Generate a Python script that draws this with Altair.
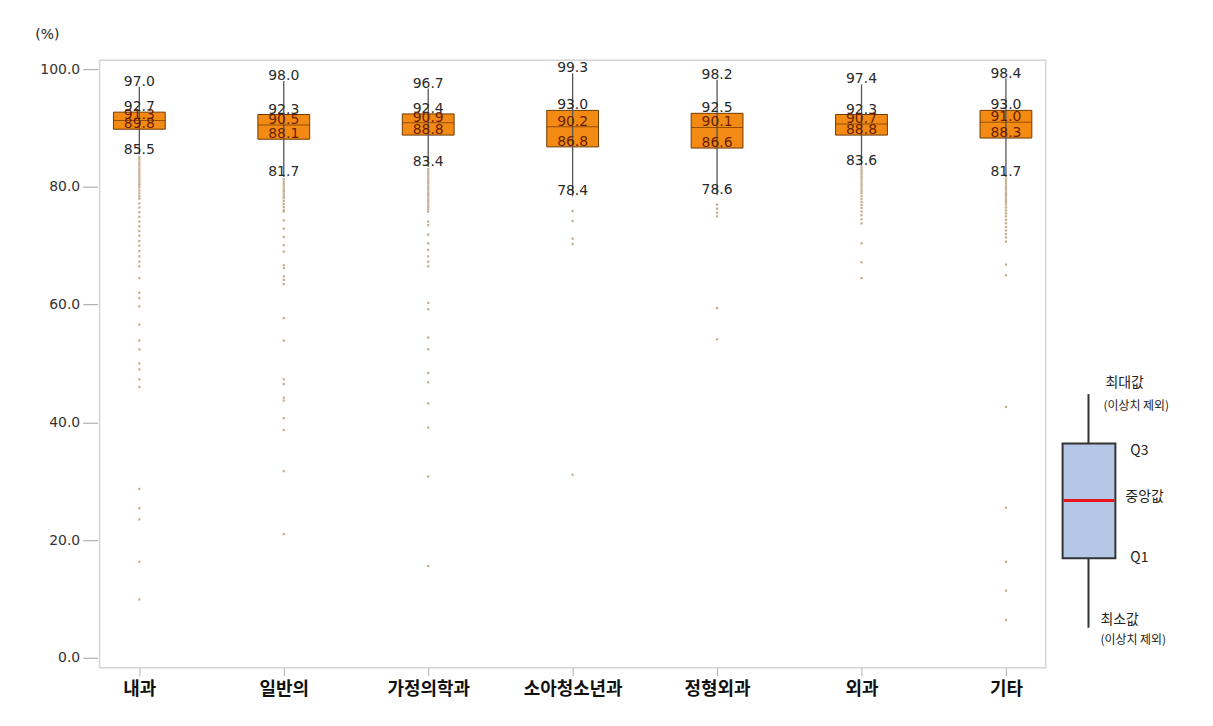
import altair as alt
import pandas as pd

# ---------------- data ----------------
cats = ["내과", "일반의", "가정의학과", "소아청소년과", "정형외과", "외과", "기타"]
vmax = [97.0, 98.0, 96.7, 99.3, 98.2, 97.4, 98.4]
vq3 = [92.7, 92.3, 92.4, 93.0, 92.5, 92.3, 93.0]
vmed = [91.3, 90.5, 90.9, 90.2, 90.1, 90.7, 91.0]
vq1 = [89.8, 88.1, 88.8, 86.8, 86.6, 88.8, 88.3]
vmin = [85.5, 81.7, 83.4, 78.4, 78.6, 83.6, 81.7]

out_naegwa = [85.1, 84.7, 84.3, 83.9, 83.5, 83.1, 82.7, 82.3, 81.9, 81.5, 81.1, 80.7,
              80.3, 79.9, 79.4, 78.9, 78.4, 78.0, 77.2, 76.5, 75.7, 74.9, 74.1, 73.3,
              72.5, 71.7, 70.8, 70.0, 69.1, 68.2, 67.3, 66.5, 64.5, 62.0, 61.1, 59.7,
              56.6, 53.9, 52.4, 50.0, 49.0, 47.3, 46.0, 28.7, 25.4, 23.5, 16.3, 9.9]
out_ilban = [81.3, 80.9, 80.5, 80.1, 79.7, 79.3, 78.9, 78.5, 78.1, 77.6, 77.1, 76.6,
             76.1, 75.8, 74.3, 72.9, 71.5, 70.1, 69.0, 66.7, 66.2, 64.8, 64.2, 63.5,
             57.7, 53.9, 47.3, 46.5, 44.2, 43.7, 40.7, 38.7, 31.7, 21.0]
out_gajeong = [83.0, 82.6, 82.2, 81.8, 81.4, 81.0, 80.6, 80.2, 79.8, 79.4, 79.0, 78.6,
               78.2, 77.8, 77.4, 77.0, 76.6, 76.2, 75.8, 74.1, 73.5, 71.9, 70.4, 69.3,
               68.2, 67.3, 66.5, 60.3, 59.2, 54.4, 52.4, 48.4, 46.8, 43.2, 39.1, 30.8, 15.6]
out_soa = [75.9, 74.2, 71.2, 70.3, 31.1]
out_jeonghyeong = [77.0, 76.3, 75.6, 75.0, 59.4, 54.1]
out_oegwa = [83.3, 82.9, 82.5, 82.1, 81.7, 81.3, 80.9, 80.5, 80.1, 79.7, 79.3, 78.9,
             78.4, 77.9, 77.4, 76.9, 76.4, 75.8, 75.2, 74.5, 73.8, 70.4, 67.2, 64.5]
out_gita = [81.4, 81.0, 80.6, 80.2, 79.8, 79.4, 79.0, 78.6, 78.2, 77.8, 77.4, 77.0,
            76.5, 76.0, 75.5, 75.0, 74.4, 73.8, 73.2, 72.6, 72.0, 71.4, 70.7, 66.8,
            65.0, 42.6, 25.5, 16.3, 11.4, 6.4]
outliers = [out_naegwa, out_ilban, out_gajeong, out_soa, out_jeonghyeong, out_oegwa, out_gita]

# legend (schematic) values, read on the same % axis
legend_min, legend_q1, legend_med, legend_q3, legend_max = 5.1, 16.9, 26.7, 36.4, 44.8

# ---------------- tables ----------------
stats_df = pd.DataFrame({"cat": cats, "max": vmax, "q3": vq3, "med": vmed, "q1": vq1, "min": vmin})
outer_rows, inner_rows = [], []
for i, c in enumerate(cats):
    for v in (vmax[i], vq3[i], vmin[i]):
        outer_rows.append({"cat": c, "v": v})
    for v in (vmed[i], vq1[i]):
        inner_rows.append({"cat": c, "v": v})
outer_df = pd.DataFrame(outer_rows)
inner_df = pd.DataFrame(inner_rows)
out_df = pd.DataFrame([{"cat": c, "v": v} for c, lst in zip(cats, outliers) for v in lst])
leg_df = pd.DataFrame([{"lmin": legend_min, "lq1": legend_q1, "lmed": legend_med,
                        "lq3": legend_q3, "lmax": legend_max}])

# ---------------- scales ----------------
yscale = alt.Scale(domain=[-1.69, 101.52], nice=False, zero=False)
xenc = alt.X("cat:N", sort=cats, scale=alt.Scale(type="point", padding=0.275),
             axis=alt.Axis(title=None, labelAngle=0, labelFont="Noto Sans CJK KR",
                           labelFontWeight="bold", labelFontSize=18, labelColor="#111",
                           tickColor="#b0b0b0", tickSize=8, domain=False, labelPadding=5))
yaxis = alt.Axis(values=[0, 20, 40, 60, 80, 100], format=".1f", title="(%)", titleAngle=0,
                 titleX=-51, titleY=-26, titleAlign="center", titleBaseline="middle",
                 titleFont="DejaVu Sans", titleFontSize=14, titleFontWeight="normal",
                 titleColor="#222", labelFont="DejaVu Sans", labelFontSize=14,
                 labelColor="#333", tickColor="#a0a0a0", tickSize=15, offset=2,
                 labelPadding=3, domain=False, grid=False)

pts = alt.Chart(out_df).mark_square(size=5, color="#bb9f7a", opacity=0.85).encode(
    x=xenc, y=alt.Y("v:Q", scale=yscale, axis=yaxis))
box = alt.Chart(stats_df).mark_bar(size=52, color="#F28A14",
                                   stroke="#6E3800", strokeWidth=1).encode(
    x=xenc, y=alt.Y("q1:Q", scale=yscale), y2="q3:Q")
whisk = alt.Chart(stats_df).mark_rule(color="#555555", strokeWidth=1.3).encode(
    x=xenc, y=alt.Y("min:Q", scale=yscale), y2="max:Q")
med = alt.Chart(stats_df).mark_tick(size=52, thickness=1, color="#6E3800").encode(
    x=xenc, y=alt.Y("med:Q", scale=yscale))
txt_out = alt.Chart(outer_df).mark_text(font="DejaVu Sans", fontSize=14, color="#2a2a2a",
                                        baseline="alphabetic", dy=-1).encode(
    x=xenc, y=alt.Y("v:Q", scale=yscale), text=alt.Text("v:Q", format=".1f"))
txt_in = alt.Chart(inner_df).mark_text(font="DejaVu Sans", fontSize=14, color="#6a1f00",
                                       baseline="alphabetic", dy=-1).encode(
    x=xenc, y=alt.Y("v:Q", scale=yscale), text=alt.Text("v:Q", format=".1f"))

main = alt.layer(pts, box, whisk, med, txt_out, txt_in).properties(
    width=950, height=610, view=alt.ViewBackground(stroke="#d4d4d4", strokeWidth=1.5))

# ---------------- schematic legend ----------------
lb = alt.Chart(leg_df)
l_whisk = lb.mark_rule(color="#333333", strokeWidth=2).encode(
    x=alt.value(41), y=alt.Y("lmin:Q", scale=yscale, axis=None), y2="lmax:Q")
l_box = lb.mark_rect(fill="#B4C7E7", stroke="#333333", strokeWidth=2).encode(
    x=alt.value(15), x2=alt.value(68), y=alt.Y("lq1:Q", scale=yscale, axis=None), y2="lq3:Q")
l_med = lb.mark_rule(color="#E8141B", strokeWidth=3).encode(
    x=alt.value(16), x2=alt.value(67), y=alt.Y("lmed:Q", scale=yscale, axis=None))

def ltext(t, field, xpos, dy, size):
    return lb.mark_text(text=t, align="left", baseline="middle", dy=dy, fontSize=size,
                        font="Noto Sans CJK KR", color="#222").encode(
        x=alt.value(xpos), y=alt.Y(field + ":Q", scale=yscale, axis=None))

legend = alt.layer(
    l_whisk, l_box, l_med,
    ltext("최대값", "lmax", 58, -11, 14),
    ltext("(이상치 제외)", "lmax", 56, 12, 12),
    ltext("Q3", "lq3", 83, 8, 14),
    ltext("중앙값", "lmed", 78, -4, 14),
    ltext("Q1", "lq1", 83, 0, 14),
    ltext("최소값", "lmin", 53, -8, 14),
    ltext("(이상치 제외)", "lmin", 53, 12, 12),
).properties(width=155, height=610, view=alt.ViewBackground(stroke="transparent"))

chart = alt.hconcat(main, legend, spacing=0).properties(
    padding={"left": 26, "top": 17, "right": 2, "bottom": 2},
    background="white",
).configure_view(stroke="transparent")

chart.save("out.html", embed_options={"renderer": "svg", "actions": False})
